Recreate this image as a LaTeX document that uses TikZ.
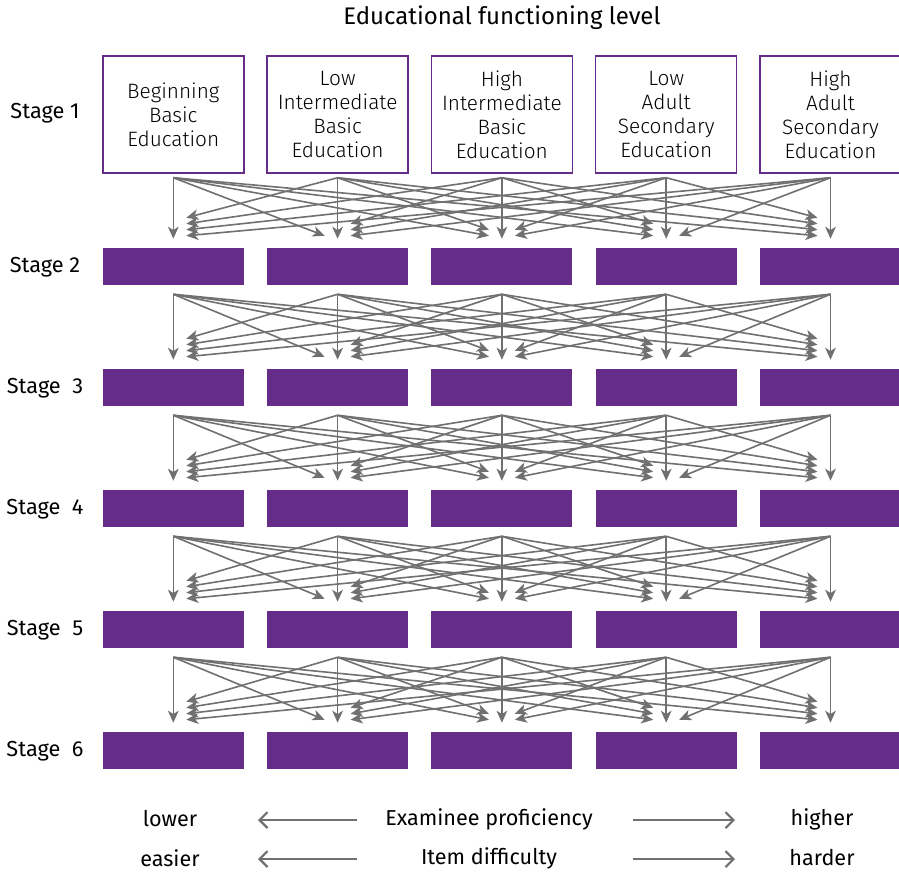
\documentclass[tikz,border=0pt]{standalone}
\usepackage{fontspec}
\setmainfont{Fira Sans}
\IfFontExistsTF{Fira Sans Light}{\newfontfamily\lightfont{Fira Sans Light}}{\newfontfamily\lightfont{Fira Sans}}
\usetikzlibrary{arrows.meta,calc}
\definecolor{edpurple}{RGB}{101,45,137}
\definecolor{edgray}{RGB}{112,112,112}
\tikzset{
  levelbox/.style={draw=edpurple, line width=1.1pt, minimum width=105.75pt,
    minimum height=87.75pt, align=center, font=\lightfont\fontsize{15.6pt}{18pt}\selectfont},
  levelbar/.style={fill=edpurple, minimum width=105.75pt, minimum height=27.75pt, inner sep=0pt},
  stagelabel/.style={font=\fontsize{16.3pt}{19pt}\selectfont},
  scaletext/.style={font=\fontsize{16.2pt}{19pt}\selectfont},
  fanarrow/.style={edgray, line width=1.2pt, -{Stealth[length=9pt,width=8pt,inset=2.5pt]}},
  scalearrow/.style={edgray, line width=1.6pt, -{Straight Barb[length=6pt,width=12pt]}}
}
\begin{document}
\begin{tikzpicture}[x=0.75pt,y=-0.75pt]
  \useasboundingbox (0,0) rectangle (899,871);
  %% Title
  \node[font=\fontsize{18pt}{21pt}\selectfont] (title) at (502,18) {Educational functioning level};
  %% Stage 1 boxes
  \foreach \c/\txt in {1/{Beginning\\Basic\\Education},
      2/{Low\\Intermediate\\Basic\\Education},
      3/{High\\Intermediate\\Basic\\Education},
      4/{Low\\Adult\\Secondary\\Education},
      5/{High\\Adult\\Secondary\\Education}} {
    \pgfmathsetmacro\cx{173.3+164.3*(\c-1)}
    \node[levelbox] (s1-\c) at (\cx,114.5) {\txt};
  }
  %% Bars of stages 2 to 6
  \foreach \r in {2,...,6} {
    \foreach \c in {1,...,5} {
      \pgfmathsetmacro\cx{173.3+164.3*(\c-1)}
      \pgfmathsetmacro\cy{266.5+121*(\r-2)}
      \node[levelbar] (s\r-\c) at (\cx,\cy) {};
    }
  }
  %% Stage labels
  \foreach \r/\txt/\ly in {1/Stage 1/113, 2/Stage 2/267, 3/Stage\ \ 3/388,
      4/Stage\ \ 4/509, 5/Stage\ \ 5/630, 6/Stage\ \ 6/751} {
    \node[stagelabel] (lbl\r) at (45,\ly) {\txt};
  }
  %% Routing arrows between stages
  \foreach \r in {1,...,5} {
    \pgfmathtruncatemacro\nr{\r+1}
    \pgfmathsetmacro\gap{\r==1 ? 4 : 9}
    \foreach \i in {1,...,5} {
      \foreach \j in {1,...,5} {
        \pgfmathsetmacro\n{\i<\j ? \j-1 : 5-\j}
        \pgfmathsetmacro\d{abs(\i-\j)}
        \pgfmathsetmacro\off{\i==\j ? 9 : 12+6*(\n-\d)}
        \pgfmathsetmacro\dx{\i==\j ? 0 : (\i<\j ? -13 : 13)}
        \draw[fanarrow] ($(s\r-\i.south)+(0,\gap)$) -- ($(s\nr-\j.north)+(\dx,-\off)$);
      }
    }
  }
  %% Scale at the bottom
  \node[scaletext] (lower) at (170,819) {lower};
  \node[scaletext] (prof) at (489,819) {Examinee proficiency};
  \node[scaletext] (higher) at (822,819) {higher};
  \node[scaletext] (easier) at (170,858) {easier};
  \node[scaletext] (diff) at (489,858) {Item difficulty};
  \node[scaletext] (harder) at (822,858) {harder};
  \coordinate (profL) at (357,820);
  \coordinate (profLtip) at (258,820);
  \coordinate (profR) at (633,820);
  \coordinate (profRtip) at (735,820);
  \coordinate (diffL) at (357,859);
  \coordinate (diffLtip) at (258,859);
  \coordinate (diffR) at (633,859);
  \coordinate (diffRtip) at (735,859);
  \draw[scalearrow] (profL) -- (profLtip);
  \draw[scalearrow] (profR) -- (profRtip);
  \draw[scalearrow] (diffL) -- (diffLtip);
  \draw[scalearrow] (diffR) -- (diffRtip);
\end{tikzpicture}
\end{document}
